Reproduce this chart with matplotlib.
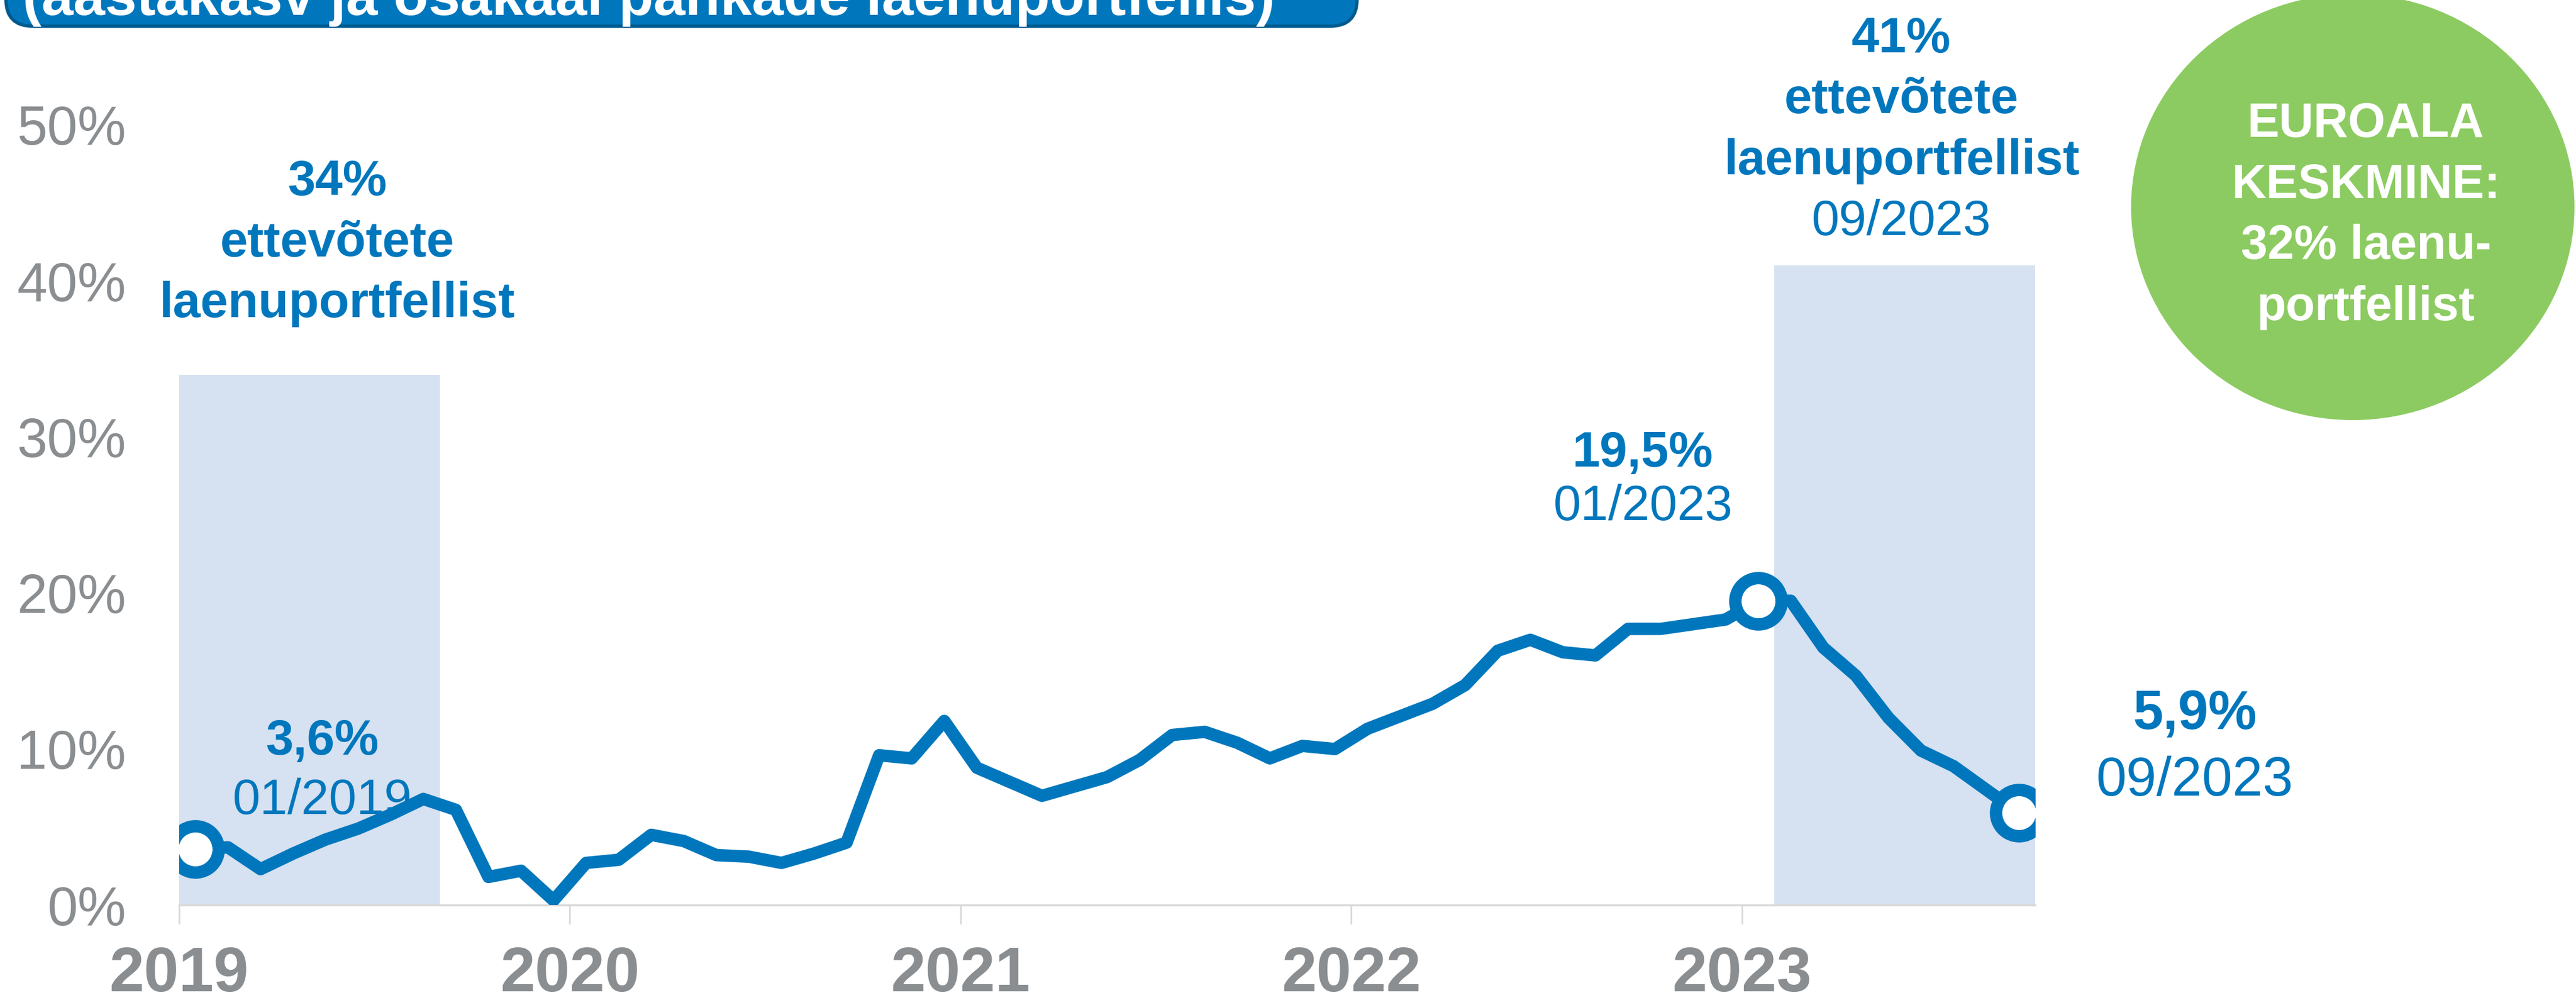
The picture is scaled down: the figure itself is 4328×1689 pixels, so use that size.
import matplotlib.pyplot as plt
from matplotlib.patches import Ellipse, FancyBboxPatch
import numpy as np

# ettevõtete laenude aastakasv (%), kuised andmed 01/2019 - 09/2023
kasv = [3.6, 3.7, 2.3, 3.3, 4.2, 4.9, 5.8, 6.8, 6.1, 1.8, 2.2, 0.3,
        2.7, 2.9, 4.5, 4.1, 3.2, 3.1, 2.7, 3.3, 4.0, 9.6, 9.4, 11.8,
        8.8, 7.9, 7.0, 7.6, 8.2, 9.3, 10.9, 11.1, 10.4, 9.4, 10.2, 10.0,
        11.3, 12.1, 12.9, 14.1, 16.3, 17.0, 16.2, 16.0, 17.7, 17.7, 18.0, 18.3,
        19.5, 19.5, 16.5, 14.7, 12.0, 9.9, 8.9, 7.4, 5.9]
aastad = ['2019', '2020', '2021', '2022', '2023']

# osakaal laenuportfellist (taustariba), alguskuu indeks ja kuude arv
osakaal = [34, 41]
riba_algus = [0, 49]
riba_kuud = [8, 8]

# esile tõstetud punktid (01/2019, 01/2023, 09/2023)
esile = [0, 48, 56]

SININE = '#0077BD'
HELE = '#D6E1F1'
HALL = '#8A8E91'
ROHELINE = '#8CCB61'

plt.rcParams['font.family'] = ['Liberation Sans', 'DejaVu Sans']

W, H = 4328, 1689
fig = plt.figure(figsize=(W / 100, H / 100), dpi=100)
ax = fig.add_axes([301 / W, 1 - 1521 / H, (3419 - 301) / W, (1521 - 210) / H])

x = np.arange(len(kasv))

# taustaribad
ax.bar(np.array(riba_algus) - 0.5, osakaal, width=riba_kuud, align='edge',
       color=HELE, zorder=1)

# joon ja markerid
ax.plot(x, kasv, color=SININE, lw=15, solid_joinstyle='round', zorder=3)
ax.plot(x[esile], np.array(kasv)[esile], 'o', ms=56, mfc='white', mec=SININE,
        mew=15, zorder=4)

ax.set_xlim(-0.5, len(kasv) - 0.5)
ax.set_ylim(0, 50)

# teljed
ax.set_xticks([i * 12 - 0.5 for i in range(len(aastad))])
ax.set_xticklabels(aastad, fontweight='bold')
ax.tick_params(axis='x', length=23, width=2, color='#D9D9D9', pad=26,
               labelsize=76, labelcolor=HALL)
ax.set_yticks(range(0, 51, 10))
ax.set_yticklabels([f'{v}%' for v in range(0, 51, 10)])
ax.tick_params(axis='y', length=0, pad=64, labelsize=66, labelcolor=HALL)
for s in ['top', 'right', 'left']:
    ax.spines[s].set_visible(False)
ax.spines['bottom'].set_color('#D9D9D9')
ax.spines['bottom'].set_linewidth(2.5)


def kiri(xk, y0, read, samm=3.91, suurus=60):
    # mitmerealine tekst, iga rida eraldi (tekst, paks?)
    for i, (t, paks) in enumerate(read):
        ax.text(xk, y0 - i * samm, t, ha='center', va='baseline',
                fontsize=suurus, fontweight='bold' if paks else 'normal',
                color=SININE, clip_on=False, zorder=5)


kiri(4.35, 45.5, [('34%', True), ('ettevõtete', True), ('laenuportfellist', True)])
kiri(52.4, 54.66, [('41%', True), ('ettevõtete', True), ('laenuportfellist', True),
                   ('09/2023', False)])
kiri(44.46, 28.1, [('19,5%', True), ('01/2023', False)], samm=3.44)
kiri(3.9, 9.65, [('3,6%', True), ('01/2019', False)], samm=3.81)
kiri(61.4, 11.3, [('5,9%', True), ('09/2023', False)], samm=4.3, suurus=66)

# kaunistused pikslikoordinaatides
ov = fig.add_axes([0, 0, 1, 1])
ov.set_xlim(0, W)
ov.set_ylim(H, 0)
ov.axis('off')

ov.add_patch(FancyBboxPatch((10, -200), 2270, 244,
                            boxstyle='round,pad=0,rounding_size=45',
                            fc=SININE, ec='#005A8E', lw=4))
ov.text(38, 25, '(aastakasv ja osakaal pankade laenuportfellis)', color='white',
        fontsize=69, fontweight='bold', ha='left', va='baseline')

ov.add_patch(Ellipse((3953, 348), 745, 716, fc=ROHELINE, ec='none'))
for i, t in enumerate(['EUROALA', 'KESKMINE:', '32% laenu-', 'portfellist']):
    ov.text(3975, 230 + i * 102.7, t, color='white', fontsize=58,
            fontweight='bold', ha='center', va='baseline')

fig.savefig('out.png', dpi=100)
